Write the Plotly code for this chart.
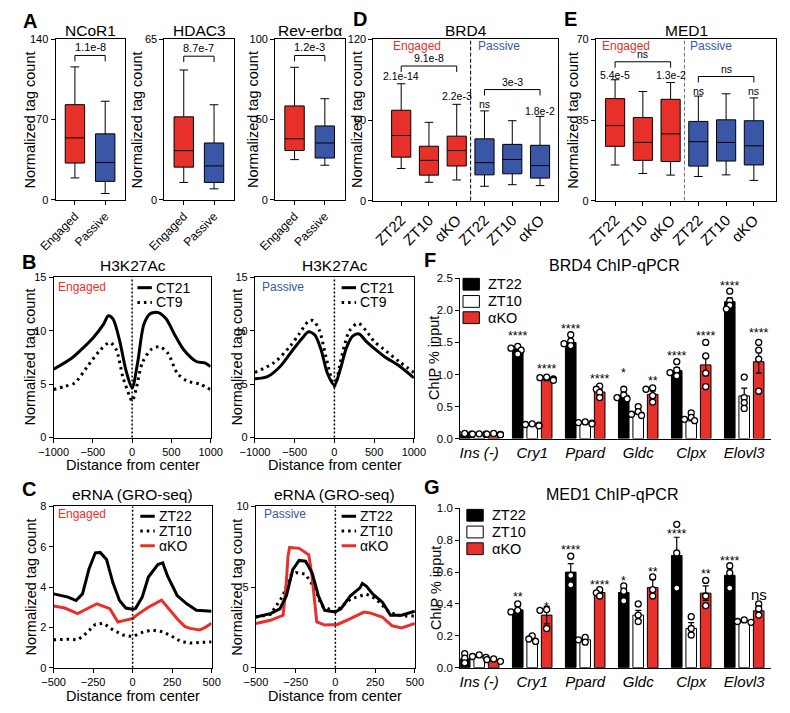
import plotly.graph_objects as go

W, H = 790, 713
FONT = 'Liberation Sans, Arial, sans-serif'
RED = '#E8302A'
BLUE = '#3A56A6'

# ---------------- A: box plots, Engaged vs Passive ----------------
a_titles = ['NCoR1', 'HDAC3', 'Rev-erbα']
a_groups = ['Engaged', 'Passive']
a_ymax = [140, 65, 100]
a_ticks = [[0, 70, 140], [0, 65], [0, 50, 100]]
a_upper = [[116, 86], [52.6, 38.5], [82.6, 63]]
a_q3 = [[83, 57.5], [33.6, 23], [58.5, 46]]
a_med = [[54, 32.5], [19.9, 13.7], [38, 35.4]]
a_q1 = [[32, 16], [13.2, 7], [30.7, 26]]
a_lower = [[19, 5.4], [7, 4.4], [25, 21.5]]
a_pval = ['1.1e-8', '8.7e-7', '1.2e-3']
a_bracket = [126, 58.2, 90]

# ---------------- D / E: box plots by condition ----------------
conds = ['ZT22', 'ZT10', 'αKO', 'ZT22', 'ZT10', 'αKO']
d_upper = [87, 58.3, 71.7, 66.8, 59.5, 62.7]
d_q3 = [67.3, 40.5, 48, 46, 41.9, 41.2]
d_med = [48.5, 30, 37.3, 28.3, 30.7, 26.1]
d_q1 = [32.4, 19, 25.8, 19.2, 20, 16.8]
d_lower = [23.9, 13.7, 15.4, 10.7, 11.9, 11.2]
d_labels = [(0, '2.1e-14', 92.9), (2, '2.2e-3', 77.8), (3, 'ns', 71.7), (5, '1.8e-2', 66.6)]
d_brackets = [(0, 2, 100.2, '9.1e-8'), (3, 5, 82.7, '3e-3')]

e_upper = [52.5, 47.4, 51.3, 45.4, 46.4, 44.6]
e_q3 = [44.3, 36.1, 44, 34.4, 35.1, 34.7]
e_med = [32.6, 25.3, 29, 25.6, 25.3, 23.8]
e_q1 = [23.6, 17.5, 17, 15, 17.2, 15.5]
e_lower = [15.5, 11.8, 11.1, 10.5, 11.2, 8.8]
e_labels = [(0, '5.4e-5', 54.6), (2, '1.3e-2', 54.6), (3, 'ns', 47.4), (5, 'ns', 47.4)]
e_brackets = [(0, 2, 60.3, 'ns'), (3, 5, 53.9, 'ns')]

# ---------------- B: H3K27Ac profiles ----------------
b1_ct21_x = [-1000, -775, -610, -490, -365, -303, -242, -160, -78, 0, 70, 150, 230, 333, 435, 537, 660, 824, 926, 1000]
b1_ct21_y = [6.4, 7.4, 8.5, 9.4, 10.6, 11.4, 11.1, 9.1, 6.3, 4.65, 7.0, 10.6, 11.6, 11.7, 11.1, 9.7, 8.2, 7.1, 7.0, 6.65]
b1_ct9_x = [-1000, -857, -734, -570, -406, -283, -200, -119, -33, 0, 50, 130, 250, 352, 455, 578, 700, 865, 1000]
b1_ct9_y = [4.5, 4.8, 5.1, 6.65, 8.2, 8.9, 8.2, 5.7, 3.9, 3.4, 4.5, 7.0, 8.3, 8.5, 7.9, 6.0, 5.3, 5.0, 4.5]
b2_ct21_x = [-1000, -841, -683, -524, -405, -325, -246, -167, -87, 0, 71, 151, 230, 310, 400, 508, 627, 825, 1000]
b2_ct21_y = [5.5, 5.7, 6.65, 8.2, 9.3, 9.9, 9.6, 8.2, 6.0, 4.9, 6.3, 8.4, 9.5, 9.7, 9.0, 8.3, 7.6, 6.65, 5.6]
b2_ct9_x = [-1000, -762, -563, -444, -325, -266, -187, -107, 0, 91, 190, 300, 400, 500, 616, 818, 1000]
b2_ct9_y = [6.1, 7.0, 8.5, 9.7, 10.9, 10.95, 10.0, 7.6, 4.8, 7.6, 10.0, 10.7, 10.0, 9.0, 8.3, 7.1, 6.1]

# ---------------- C: eRNA (GRO-seq) profiles ----------------
c1_zt22_x = [-500, -459, -408, -358, -317, -276, -236, -205, -165, -124, -83, -43, 0, 18, 61, 100, 160, 191, 221, 282, 343, 404, 500]
c1_zt22_y = [3.66, 3.6, 3.5, 3.33, 3.66, 4.9, 5.7, 5.72, 5.37, 4.2, 3.33, 2.96, 2.9, 2.93, 3.5, 4.5, 5.12, 5.2, 4.55, 3.58, 3.17, 2.85, 2.8]
c1_ako_x = [-500, -429, -348, -305, -226, -144, -93, -43, 0, 39, 100, 183, 242, 285, 330, 364, 425, 460, 500]
c1_ako_y = [3.06, 2.96, 2.68, 2.85, 3.17, 2.93, 2.27, 2.36, 2.44, 2.68, 3.0, 3.35, 2.8, 2.4, 2.05, 1.95, 1.87, 2.0, 2.2]
c1_zt10_x = [-500, -408, -348, -305, -236, -183, -124, -61, 0, 61, 122, 183, 240, 305, 364, 425, 500]
c1_zt10_y = [1.38, 1.41, 1.38, 1.62, 2.15, 2.2, 1.87, 1.62, 1.54, 1.75, 1.87, 1.79, 1.6, 1.3, 1.22, 1.25, 1.28]
c2_zt22_x = [-500, -409, -349, -308, -268, -228, -188, -147, -107, -67, 0, 34, 95, 155, 170, 196, 236, 296, 347, 417, 500]
c2_zt22_y = [3.14, 3.35, 3.65, 4.46, 6.08, 6.65, 6.6, 5.9, 4.46, 3.55, 3.45, 3.65, 4.46, 4.95, 5.23, 5.05, 4.56, 4.06, 3.25, 3.25, 3.5]
c2_ako_x = [-500, -409, -329, -310, -298, -288, -228, -167, -147, -117, -67, 14, 95, 180, 216, 296, 357, 417, 500]
c2_ako_y = [2.74, 2.94, 3.25, 5.07, 6.9, 7.46, 7.4, 7.0, 5.68, 2.84, 2.64, 2.68, 3.04, 3.45, 3.4, 3.14, 2.6, 2.47, 2.74]
c2_zt10_x = [-500, -409, -329, -288, -248, -188, -127, -87, 0, 95, 196, 256, 337, 417, 500]
c2_zt10_y = [3.14, 3.3, 4.46, 5.68, 5.9, 5.8, 4.87, 3.85, 3.45, 4.26, 4.56, 4.26, 3.45, 3.2, 3.2]

# ---------------- F / G: ChIP-qPCR ----------------
genes = ['Ins (-)', 'Cry1', 'Ppard', 'Gldc', 'Clpx', 'Elovl3']
f_mean = [[0.07, 1.39, 1.5, 0.676, 1.06, 2.135],
          [0.07, 0.22, 0.245, 0.41, 0.307, 0.666],
          [0.065, 0.92, 0.727, 0.69, 1.15, 1.2]]
f_sem = [[0.005, 0.03, 0.035, 0.035, 0.045, 0.06],
         [0.005, 0.01, 0.01, 0.03, 0.03, 0.12],
         [0.005, 0.015, 0.04, 0.05, 0.15, 0.18]]
f_pts = [[[0.08, 0.075, 0.07, 0.06], [1.44, 1.41, 1.38, 1.32], [1.62, 1.52, 1.48, 1.45],
          [0.77, 0.68, 0.64, 0.62], [1.2, 1.07, 1.03, 0.98], [2.30, 2.15, 2.08, 2.02]],
         [[0.075, 0.07, 0.07, 0.065], [0.23, 0.22, 0.21, 0.2], [0.26, 0.25, 0.24, 0.23],
          [0.5, 0.42, 0.38, 0.36], [0.4, 0.33, 0.3, 0.28], [0.96, 0.64, 0.56, 0.47]],
         [[0.08, 0.07, 0.065, 0.06], [0.96, 0.95, 0.93, 0.91], [0.82, 0.77, 0.72, 0.64],
          [0.79, 0.77, 0.67, 0.57], [1.5, 1.29, 1.02, 0.81], [1.5, 1.38, 1.24, 0.74]]]
f_stars = [(1, 0, '****', 1.64), (1, 2, '****', 1.13), (2, 0, '****', 1.75), (2, 2, '****', 0.98),
           (3, 0, '*', 1.07), (3, 2, '**', 0.95), (4, 0, '****', 1.33), (4, 2, '****', 1.65),
           (5, 0, '****', 2.42), (5, 2, '****', 1.7)]

g_mean = [[0.055, 0.363, 0.6, 0.472, 0.704, 0.58],
          [0.072, 0.185, 0.175, 0.33, 0.246, 0.294],
          [0.047, 0.33, 0.472, 0.503, 0.468, 0.357]]
g_sem = [[0.025, 0.02, 0.053, 0.025, 0.115, 0.04],
         [0.008, 0.01, 0.012, 0.03, 0.037, 0.005],
         [0.006, 0.055, 0.01, 0.05, 0.045, 0.027]]
g_pts = [[[0.088, 0.06, 0.03], [0.4, 0.36, 0.35], [0.7, 0.58, 0.52],
          [0.513, 0.48, 0.42], [0.9, 0.72, 0.5], [0.64, 0.595, 0.5]],
         [[0.08, 0.07, 0.065], [0.2, 0.18, 0.165], [0.19, 0.175, 0.16],
          [0.4, 0.33, 0.29], [0.32, 0.246, 0.205], [0.3, 0.29, 0.285]],
         [[0.055, 0.05, 0.04], [0.365, 0.36, 0.246], [0.49, 0.47, 0.45],
          [0.57, 0.49, 0.45], [0.548, 0.45, 0.39], [0.4, 0.37, 0.33]]]
g_stars = [(1, 0, '**', 0.46), (1, 2, '*', 0.40), (2, 0, '****', 0.755), (2, 2, '****', 0.54),
           (3, 0, '*', 0.56), (3, 2, '**', 0.62), (4, 0, '****', 0.86), (4, 2, '**', 0.606),
           (5, 0, '****', 0.69), (5, 2, 'ns', 0.46)]

series = ['ZT22', 'ZT10', 'αKO']

# ---------------------------------------------------------------
# axes boxes in pixels: x0, x1, ytop, ybottom
axes_px = {
    1: (40, 112, 34, 197), 2: (153, 225, 34, 197), 3: (268, 340, 34, 197),
    4: (370, 562, 34, 198), 5: (601, 788, 34, 198),
    6: (38, 201, 276, 439), 7: (247, 412, 276, 439),
    8: (38, 202, 509, 673), 9: (248, 413, 509, 673),
    10: (460, 783, 277, 440), 11: (460, 783, 511, 673),
}


def sfx(n):
    return '' if n == 1 else str(n)


fig = go.Figure()
ann, shp = [], []


def text(x, y, s, size, color='black', xanchor='center', yanchor='middle', angle=0):
    ann.append(dict(x=x / W, y=1 - y / H, xref='paper', yref='paper', text=s, showarrow=False,
                    font=dict(size=size, color=color, family=FONT), xanchor=xanchor,
                    yanchor=yanchor, textangle=angle, borderpad=0))


def dtext(n, x, y, s, size, yanchor='middle', yshift=0):
    ann.append(dict(x=x, y=y, xref='x' + sfx(n), yref='y' + sfx(n), text=s, showarrow=False,
                    font=dict(size=size, color='black', family=FONT), yanchor=yanchor,
                    yshift=yshift, borderpad=0))


def bracket(n, x0, x1, y, ymax):
    _, _, t, b = axes_px[n]
    tick = 6 * ymax / (b - t)
    shp.append(dict(type='path', xref='x' + sfx(n), yref='y' + sfx(n),
                    path=f'M {x0},{y - tick} L {x0},{y} L {x1},{y} L {x1},{y - tick}',
                    line=dict(color='black', width=1)))


def add_box(n, pos, lo, q1, med, q3, hi, color, width):
    fig.add_trace(go.Box(x=[pos], lowerfence=[lo], q1=[q1], median=[med], q3=[q3], upperfence=[hi],
                         fillcolor=color, line=dict(color='black', width=1), width=width,
                         whiskerwidth=0.45, showlegend=False, hoverinfo='skip',
                         xaxis='x' + sfx(n), yaxis='y' + sfx(n)))


# ---- A
for k in range(3):
    n = k + 1
    for j in range(2):
        add_box(n, j, a_lower[k][j], a_q1[k][j], a_med[k][j], a_q3[k][j], a_upper[k][j],
                [RED, BLUE][j], 0.64)
    bracket(n, 0, 1, a_bracket[k], a_ymax[k])
    dtext(n, 0.5, a_bracket[k], a_pval[k], 11, yanchor='bottom', yshift=1)

# ---- D / E
for n, ups, q3s, meds, q1s, los, labels, brs in [
        (4, d_upper, d_q3, d_med, d_q1, d_lower, d_labels, d_brackets),
        (5, e_upper, e_q3, e_med, e_q1, e_lower, e_labels, e_brackets)]:
    ymax = 120 if n == 4 else 70
    for i in range(6):
        add_box(n, i, los[i], q1s[i], meds[i], q3s[i], ups[i], RED if i < 3 else BLUE, 0.69)
    for i, s, y in labels:
        dtext(n, i, y, s, 10.5)
    for i0, i1, y, s in brs:
        bracket(n, i0, i1, y, ymax)
        dtext(n, (i0 + i1) / 2, y, s, 10.5, yanchor='bottom', yshift=1)
    shp.append(dict(type='line', xref='x' + sfx(n), yref='y' + sfx(n) + ' domain', x0=2.5, x1=2.5,
                    y0=0, y1=1, line=dict(color='black' if n == 4 else '#777', width=1, dash='4px,2px')))

# ---- B / C lines
DOT = '2.5px,4px'
line_sets = [
    (6, [(b1_ct21_x, b1_ct21_y, 'black', 'solid'), (b1_ct9_x, b1_ct9_y, 'black', DOT)]),
    (7, [(b2_ct21_x, b2_ct21_y, 'black', 'solid'), (b2_ct9_x, b2_ct9_y, 'black', DOT)]),
    (8, [(c1_zt10_x, c1_zt10_y, 'black', DOT), (c1_ako_x, c1_ako_y, RED, 'solid'),
         (c1_zt22_x, c1_zt22_y, 'black', 'solid')]),
    (9, [(c2_zt10_x, c2_zt10_y, 'black', DOT), (c2_ako_x, c2_ako_y, RED, 'solid'),
         (c2_zt22_x, c2_zt22_y, 'black', 'solid')]),
]
for n, sets in line_sets:
    for xs, ys, col, dash in sets:
        fig.add_trace(go.Scatter(x=xs, y=ys, mode='lines', showlegend=False, hoverinfo='skip',
                                 line=dict(color=col, width=3, dash=dash,
                                           shape='spline' if n < 8 else 'linear', smoothing=0.8),
                                 xaxis='x' + sfx(n), yaxis='y' + sfx(n)))
    shp.append(dict(type='line', xref='x' + sfx(n), yref='y' + sfx(n) + ' domain', x0=0, x1=0,
                    y0=0, y1=1, line=dict(color='black', width=1.5, dash='2px,2px')))


# ---- F / G bars
def spread(vals, ppu_y, ppu_x, d=4.5):
    placed, offs = [], []
    for v in vals:
        for c in [0, -1, 1, -2, 2]:
            ox = c * 3.5
            if all((ox - px_) ** 2 + ((v - pv) * ppu_y) ** 2 >= d * d for px_, pv in placed):
                break
        placed.append((ox, v))
        offs.append(ox / ppu_x)
    return offs


offs = [-0.273, 0, 0.273]
bar_cols = ['black', 'white', RED]
for n, means, sems, pts, stars, ymax in [(10, f_mean, f_sem, f_pts, f_stars, 2.5),
                                         (11, g_mean, g_sem, g_pts, g_stars, 1.0)]:
    x0, x1, t, b = axes_px[n]
    ppu_y = (b - t) / ymax
    ppu_x = (x1 - x0) / 5.87
    for k in range(3):
        xs = [i + offs[k] for i in range(6)]
        fig.add_trace(go.Bar(x=xs, y=means[k], width=0.2,
                             marker=dict(color=bar_cols[k], line=dict(color='black', width=1)),
                             error_y=dict(type='data', array=sems[k], color='black', thickness=1.2, width=3),
                             showlegend=False, hoverinfo='skip', xaxis='x' + sfx(n), yaxis='y' + sfx(n)))
    for k in range(3):
        dx, dy = [], []
        for i in range(6):
            o = spread(pts[k][i], ppu_y, ppu_x)
            dx += [i + offs[k] + oo for oo in o]
            dy += pts[k][i]
        fig.add_trace(go.Scatter(x=dx, y=dy, mode='markers', showlegend=False, hoverinfo='skip',
                                 marker=dict(symbol='circle', size=6, color='white',
                                             line=dict(color='black', width=1.3)),
                                 xaxis='x' + sfx(n), yaxis='y' + sfx(n)))
    for i, k, s, y in stars:
        if s == 'ns':
            dtext(n, i + offs[k], y, s, 15)
        else:
            dtext(n, i + offs[k], y, s, 12.5, yshift=-3)

# ---------------------------------------------------------------
layout = dict(width=W, height=H, autosize=False, margin=dict(l=0, r=0, t=0, b=0),
              paper_bgcolor='white', plot_bgcolor='white', barmode='overlay', showlegend=False,
              font=dict(family=FONT, color='black'))

for n, (x0, x1, t, b) in axes_px.items():
    s = sfx(n)
    frame = n < 10
    common = dict(showline=True, linecolor='black', linewidth=1, mirror=frame, showgrid=False,
                  zeroline=False, ticks='outside', ticklen=4, tickwidth=1, tickcolor='black',
                  tickfont=dict(size=11, color='black', family=FONT))
    layout['xaxis' + s] = dict(domain=[x0 / W, x1 / W], anchor='y' + s, **common)
    layout['yaxis' + s] = dict(domain=[1 - b / H, 1 - t / H], anchor='x' + s, **common)

for k in range(3):
    s = sfx(k + 1)
    layout['xaxis' + s].update(range=[-0.64, 1.65], tickvals=[0, 1], ticktext=a_groups, tickangle=-45,
                               tickfont=dict(size=12, color='black', family=FONT))
    layout['yaxis' + s].update(range=[0, a_ymax[k]], tickvals=a_ticks[k])

layout['xaxis4'].update(range=[-1.0, 5.66])
layout['xaxis5'].update(range=[-0.69, 5.8])
for s, ymax, tv in [('4', 120, [0, 60, 120]), ('5', 70, [0, 35, 70])]:
    layout['xaxis' + s].update(tickvals=list(range(6)), ticktext=conds, tickangle=-45,
                               tickfont=dict(size=15, color='black', family=FONT))
    layout['yaxis' + s].update(range=[0, ymax], tickvals=tv)

for s in ['6', '7']:
    layout['xaxis' + s].update(range=[-1000, 1000], tickvals=[-1000, -500, 0, 500, 1000])
    layout['yaxis' + s].update(range=[0, 15], tickvals=[0, 5, 10, 15])
for s in ['8', '9']:
    layout['xaxis' + s].update(range=[-500, 500], tickvals=[-500, -250, 0, 250, 500])
layout['yaxis8'].update(range=[0, 8], tickvals=[0, 2, 4, 6, 8])
layout['yaxis9'].update(range=[0, 10], tickvals=[0, 5, 10])

for s, ymax, step in [('10', 2.5, 0.5), ('11', 1.0, 0.2)]:
    layout['xaxis' + s].update(range=[-0.36, 5.51], tickvals=list(range(6)),
                               ticktext=[f'<i>{g}</i>' for g in genes], ticks='',
                               tickfont=dict(size=15, color='black', family=FONT))
    layout['yaxis' + s].update(range=[0, ymax], dtick=step, tick0=0, tickformat='.1f',
                               tickfont=dict(size=11.5, color='black', family=FONT))

# ---- titles, panel letters, axis labels
for k, cx in enumerate([76, 189, 304]):
    text(cx, 25, a_titles[k], 15.5)
text(466, 25, 'BRD4', 15.5)
text(695, 25, 'MED1', 15.5)
for cx in [120, 330]:
    text(cx, 264, 'H3K27Ac', 15.5)
    text(cx, 497, 'eRNA (GRO-seq)', 15.5)
    text(cx, 467, 'Distance from center', 14.5)
    text(cx, 702, 'Distance from center', 14.5)
text(620, 264, 'BRD4 ChIP-qPCR', 16)
text(618, 497, 'MED1 ChIP-qPCR', 16)

for s, x, y in [('A', 13, 15), ('B', 12, 260), ('C', 12, 491), ('D', 356, 13), ('E', 575, 13),
                ('F', 429, 258), ('G', 431, 489)]:
    text(x, y, f'<b>{s}</b>', 20)

for x, y in [(14, 116), (125, 116), (245, 116), (353, 116), (577, 116),
             (13, 357), (228, 357), (15, 591), (228, 591)]:
    text(x, y, 'Normalized tag count', 14.5, angle=-90)
text(433, 358, 'ChIP % input', 14.5, angle=-90)
text(435, 592, 'ChIP % input', 14.5, angle=-90)

# Engaged / Passive tags
text(389, 40.5, 'Engaged', 12, RED, xanchor='left')
text(478, 40.5, 'Passive', 12, BLUE, xanchor='left')
text(606, 40.5, 'Engaged', 12, RED, xanchor='left')
text(698, 40.5, 'Passive', 12, BLUE, xanchor='left')
text(42, 286, 'Engaged', 12, RED, xanchor='left')
text(253, 286, 'Passive', 12, BLUE, xanchor='left')
text(42, 517, 'Engaged', 12, RED, xanchor='left')
text(255, 517, 'Passive', 12, BLUE, xanchor='left')


# ---- legends (line samples)
def leg_line(x0, y, label, color, dash):
    shp.append(dict(type='line', xref='paper', yref='paper', x0=x0 / W, x1=(x0 + 15) / W,
                    y0=1 - y / H, y1=1 - y / H, line=dict(color=color, width=3, dash=dash)))
    text(x0 + 18, y, label, 14, xanchor='left')


for x0 in [125, 337]:
    leg_line(x0, 286.5, 'CT21', 'black', 'solid')
    leg_line(x0, 301.5, 'CT9', 'black', DOT)
for x0 in [128, 337]:
    leg_line(x0, 519, 'ZT22', 'black', 'solid')
    leg_line(x0, 534, 'ZT10', 'black', DOT)
    leg_line(x0, 549, 'αKO', RED, 'solid')


def leg_rect(x0, y, label, color):
    shp.append(dict(type='rect', xref='paper', yref='paper', x0=x0 / W, x1=(x0 + 17) / W,
                    y0=1 - (y + 6) / H, y1=1 - (y - 6) / H, fillcolor=color,
                    line=dict(color='black', width=1)))
    text(x0 + 25, y, label, 14.5, xanchor='left')


for x0, ys in [(463, [283, 300.5, 317]), (467, [518, 535, 552])]:
    for k in range(3):
        leg_rect(x0, ys[k], series[k], bar_cols[k])

layout['annotations'] = ann
layout['shapes'] = shp
fig.update_layout(**layout)

# pin the plot to the top-left corner of the page, nothing else in the flow
page_css = ("var d=document.documentElement,b=document.body,g=document.getElementById('{plot_id}');"
            "d.style.margin='0';d.style.overflow='hidden';"
            "b.style.margin='0';b.style.padding='0';b.style.overflow='hidden';"
            "g.style.position='fixed';g.style.top='0';g.style.left='0';")
fig.write_html('out.html', config={'displayModeBar': False, 'responsive': False},
               post_script=page_css)
